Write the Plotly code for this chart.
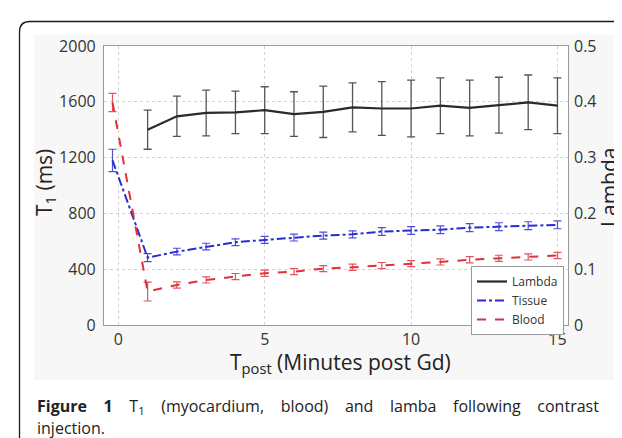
import plotly.graph_objects as go
from plotly.subplots import make_subplots

# time points (minutes after Gd); the pre-contrast sample sits just left of 0
minutes = list(range(1, 16))
tissue_x = [-0.2] + minutes
blood_x = [-0.2] + minutes

# T1 values in ms
tissue_t1 = [1180, 483, 526, 562, 593, 610, 627, 641, 650, 670, 677, 683, 698, 705, 712, 718]
tissue_err = [80, 28, 24, 24, 24, 25, 25, 25, 25, 28, 28, 28, 28, 28, 28, 28]
blood_t1 = [1595, 240, 287, 323, 347, 371, 383, 404, 414, 426, 440, 452, 468, 478, 488, 498]
blood_err = [65, 68, 22, 22, 22, 22, 22, 22, 22, 22, 22, 22, 22, 22, 22, 22]

# partition coefficient lambda
lambda_vals = [0.350, 0.374, 0.380, 0.381, 0.385, 0.378, 0.382, 0.390, 0.388,
               0.388, 0.393, 0.389, 0.394, 0.399, 0.393]
lambda_err = [0.035, 0.036, 0.041, 0.038, 0.042, 0.040, 0.046, 0.044, 0.048,
              0.051, 0.050, 0.050, 0.050, 0.049, 0.050]

x_ticks = [0, 5, 10, 15]
t1_ticks = [0, 400, 800, 1200, 1600, 2000]
lambda_ticks = [0, 0.1, 0.2, 0.3, 0.4, 0.5]

W, H = 622, 438
L, R, T, B = 96, 62, 38, 121
FONT = "Open Sans"


def px(x):
    return (x - L) / (W - L - R)


def py(y):
    return (H - B - y) / (H - T - B)


fig = make_subplots(specs=[[{"secondary_y": True}]])

fig.add_trace(go.Scatter(
    x=minutes, y=lambda_vals, name="Lambda", mode="lines",
    line=dict(color="#2a2a2a", width=2.2),
    error_y=dict(type="data", array=lambda_err, color="#555555", thickness=1.3, width=4),
), secondary_y=True)

fig.add_trace(go.Scatter(
    x=tissue_x, y=tissue_t1, name="Tissue", mode="lines",
    line=dict(color="#2b2bd6", width=2, dash="dashdot"),
    error_y=dict(type="data", array=tissue_err, color="#4f4fd8", thickness=1.2, width=4),
), secondary_y=False)

fig.add_trace(go.Scatter(
    x=blood_x, y=blood_t1, name="Blood", mode="lines",
    line=dict(color="#e0303a", width=2, dash="dash"),
    error_y=dict(type="data", array=blood_err, color="#e05560", thickness=1.2, width=4),
), secondary_y=False)

grid = dict(showgrid=True, gridcolor="#d2d2d2", griddash="dot", gridwidth=1,
            showline=True, linecolor="#9a9a9a", linewidth=1.2, mirror=True,
            zeroline=False, ticks="")
tick_font = dict(family=FONT, size=16, color="#333")

fig.update_xaxes(domain=[0, 1], range=[-0.49, 15.36], tickvals=x_ticks, **grid,
                 tickfont=tick_font, ticklabelstandoff=0)
fig.update_yaxes(range=[0, 2000], tickvals=t1_ticks, **grid,
                 tickfont=tick_font, ticklabelstandoff=4,
                 secondary_y=False)
fig.update_yaxes(range=[0, 0.5], tickvals=lambda_ticks, showgrid=False,
                 showline=False, zeroline=False, ticks="",
                 tickfont=tick_font, ticklabelstandoff=5,
                 secondary_y=True)

shapes = [
    # light grey backdrop of the figure image
    dict(type="rect", xref="paper", yref="paper", layer="below",
         x0=px(26), x1=px(612), y0=py(372), y1=py(27),
         fillcolor="#f7f7f7", line=dict(width=0)),
    dict(type="rect", xref="paper", yref="paper", layer="below",
         x0=0, x1=1, y0=0, y1=1, fillcolor="white", line=dict(width=0)),
    # rounded frame around the figure panel
    dict(type="path", xref="paper", yref="paper",
         path=(f"M {px(11.5)},{py(440)} L {px(11.5)},{py(24)} "
               f"Q {px(11.5)},{py(13.5)} {px(22)},{py(13.5)} L {px(624)},{py(13.5)}"),
         line=dict(color="#1a1a1a", width=1.3)),
]


def label(text, x, y, size, angle=0, xanchor="center"):
    return dict(text=text, x=px(x), y=py(y), xref="paper", yref="paper",
                xanchor=xanchor, yanchor="middle", showarrow=False, textangle=angle,
                font=dict(family=FONT, size=size, color="#222"))


# justified caption: widen every gap with non-breaking spaces
gap = " " + "\u00a0" * 3
caption_line1 = gap.join(["<b>Figure" + gap + "1</b>", "T<sub>1</sub>", "(myocardium,",
                          "blood)", "and", "lamba", "following", "contrast"])

annotations = [
    label("T<sub>1</sub> (ms)", 37, 175, 21, angle=-90),
    label("Lambda", 601, 180, 21, angle=-90),
    label("T<sub>post</sub> (Minutes post Gd)", 332, 355, 21),
    label(caption_line1, 27, 398, 16, xanchor="left"),
    label("injection.", 27, 420, 16, xanchor="left"),
]

fig.update_layout(
    width=W, height=H,
    margin=dict(l=L, r=R, t=T, b=B),
    paper_bgcolor="white", plot_bgcolor="white",
    shapes=shapes, annotations=annotations,
    showlegend=True,
    legend=dict(x=px(463), y=py(258), xanchor="left", yanchor="top",
                bgcolor="white", bordercolor="#9a9a9a", borderwidth=1,
                font=dict(family=FONT, size=12, color="#333"),
                tracegroupgap=0, itemwidth=30),
)

fig.write_html("out.html")
